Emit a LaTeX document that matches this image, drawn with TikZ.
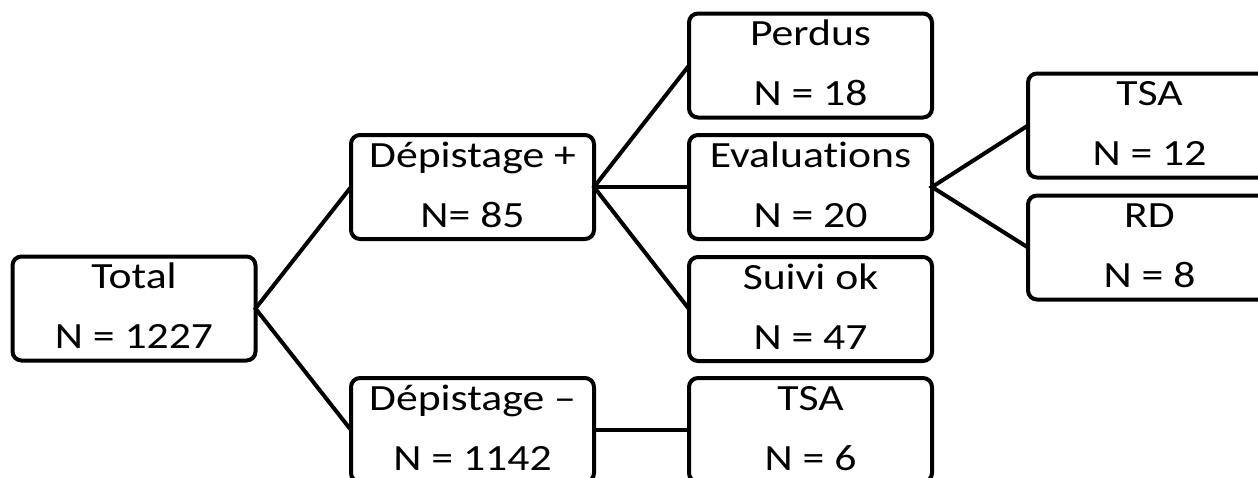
\documentclass[tikz,border=0pt]{standalone}
\usepackage{fontspec}
\setmainfont{Carlito}[FakeStretch=1.18, Ligatures=NoCommon]
\newcommand\twoline[3]{%
  \node[lbl] (#1-a) at ([yshift=20pt]#1.center) {#2};
  \node[lbl] (#1-b) at ([yshift=-40pt]#1.center) {#3};}
\begin{document}
\begin{tikzpicture}[x=1pt,y=-1pt,
  box/.style={draw, line width=4pt, rounded corners=9pt, minimum width=243pt,
              minimum height=104pt, inner sep=0pt, outer sep=0pt},
  lbl/.style={anchor=base, inner sep=0pt, font=\fontsize{37}{44}\selectfont},
  conn/.style={line width=4pt}]
\useasboundingbox (0,0) rectangle (1258,477);
\clip (0,0) rectangle (1258,477);
\node[box] (total) at (134,308.5) {};
\node[box] (dpos)  at (472.5,187) {};
\node[box] (dneg)  at (472.5,430) {};
\node[box] (perdus) at (810.5,65.5) {};
\node[box] (eval)  at (810.5,187) {};
\node[box] (suivi) at (810.5,309) {};
\node[box] (tsab)  at (810.5,430) {};
\node[box] (tsa)   at (1149.5,125.5) {};
\node[box] (rd)    at (1149.5,247.5) {};
\twoline{total}{Total}{N = 1227}
\twoline{dpos}{Dépistage +}{N= 85}
\twoline{dneg}{Dépistage –}{N = 1142}
\twoline{perdus}{Perdus}{N = 18}
\twoline{eval}{Evaluations}{N = 20}
\twoline{suivi}{Suivi ok}{N = 47}
\twoline{tsab}{TSA}{N = 6}
\twoline{tsa}{TSA}{N = 12}
\twoline{rd}{RD}{N = 8}
\draw[conn] (dpos.west) -- (total.east) -- (dneg.west);
\draw[conn] (perdus.west) -- (dpos.east) -- (suivi.west);
\draw[conn] (dpos.east) -- (eval.west);
\draw[conn] (dneg.east) -- (tsab.west);
\draw[conn] (tsa.west) -- (eval.east) -- (rd.west);
\end{tikzpicture}
\end{document}
